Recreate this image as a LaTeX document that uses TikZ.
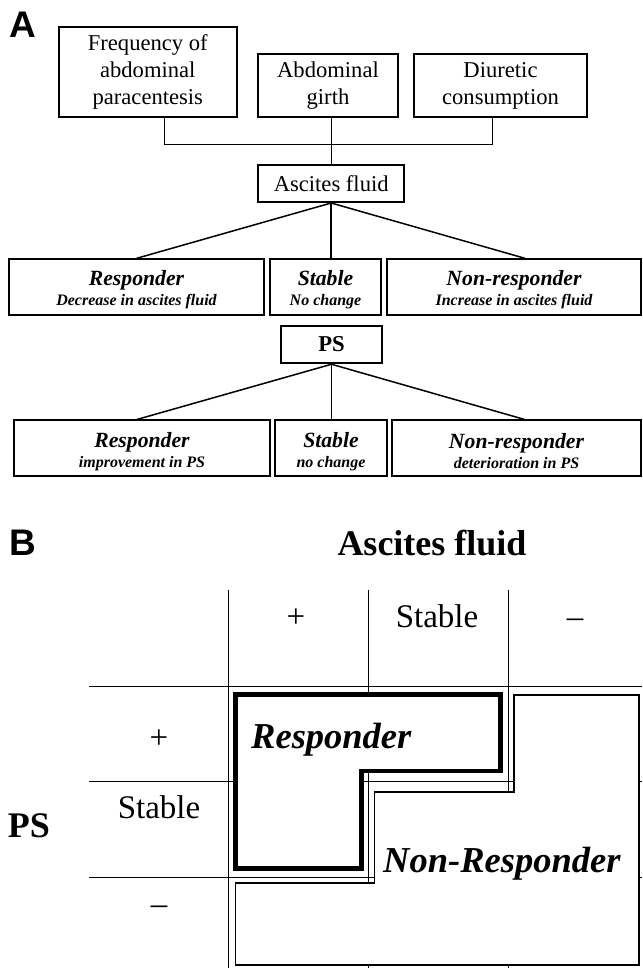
\documentclass[tikz,border=0pt]{standalone}
\usepackage{fontspec}
\setmainfont{Liberation Serif}
\newfontfamily\panelfont{Liberation Sans}
\usetikzlibrary{positioning, calc}

% 分類の箱の中身 (見出し + 説明)
\newcommand{\cls}[2]{{\fontsize{21.7}{20}\selectfont\rule{0pt}{21pt}#1}\\{#2}}

\begin{document}
\begin{tikzpicture}[x=1pt, y=-1pt,
    box/.style={draw, line width=2pt, align=center, inner sep=0pt},
    toptext/.style={font=\fontsize{22.6}{27}\selectfont},
    clsbox/.style={box, minimum height=55.7, font=\fontsize{16}{20}\selectfont\bfseries\itshape},
    link/.style={line width=1.5pt},
    thinlink/.style={line width=1.2pt},
    grid/.style={line width=1pt},
    panel/.style={inner sep=0pt, font=\panelfont\bfseries\fontsize{37}{40}\selectfont},
    celltext/.style={inner sep=0pt, font=\fontsize{33}{36}\selectfont},
    bigtext/.style={inner sep=0pt, font=\fontsize{36}{40}\selectfont\bfseries},
    region/.style={inner sep=0pt, font=\fontsize{36.5}{40}\selectfont\bfseries\itshape}]
  \useasboundingbox (0,0) rectangle (642,968);

  % パネル記号
  \node[panel, anchor=base west] (lblA) at (9,38) {A};
  \node[panel, anchor=base west] (lblB) at (9,555) {B};

  % 上段の箱
  \node[box, toptext, minimum width=178, minimum height=90] (freq) at (147.8,71.7) {Frequency of\\abdominal\\paracentesis};
  \node[box, toptext, minimum width=140, minimum height=63] (girth) at (328,85.6) {Abdominal\\girth};
  \node[box, toptext, minimum width=173, minimum height=63] (diur) at (500.5,85.6) {Diuretic\\consumption};
  \node[box, toptext, minimum width=146.5, minimum height=37] (asc) at (331.2,183.5) {Ascites fluid};

  \draw[thinlink] ([xshift=17pt]freq.south) -- ++(0,26.6) -| ([xshift=-8pt]diur.south);
  \draw[thinlink] (asc.north) -- (asc.north |- girth.south);

  % 腹水の分類
  \node[clsbox, minimum width=255] (resp1) at (136.5,287.2) {\cls{Responder}{Decrease in ascites fluid}};
  \node[clsbox, minimum width=111] (stab1) at (325.5,287.2) {\cls{Stable}{No change}};
  \node[clsbox, minimum width=254] (nonr1) at (514,287.2) {\cls{Non-responder}{Increase in ascites fluid}};

  \draw[link] (asc.south) -- (resp1.north);
  \draw[link] (asc.south) -- (asc.south |- stab1.north);
  \draw[link] (asc.south) -- ([xshift=11pt]nonr1.north);

  % PS の分類
  \node[box, line width=2.5pt, font=\fontsize{22.7}{27}\selectfont\bfseries, minimum width=101, minimum height=37] (ps) at (331.5,344.5) {PS};

  \node[clsbox, minimum width=256] (resp2) at (142,448.3) {\cls{Responder}{improvement in PS}};
  \node[clsbox, minimum width=112] (stab2) at (331,448.3) {\cls{Stable}{no change}};
  \node[clsbox, minimum width=249] (nonr2) at (516.5,448.3) {\cls{Non-responder}{deterioration in PS}};

  \draw[link] (ps.south) -- ([xshift=-5pt]resp2.north);
  \draw[link] (ps.south) -- (ps.south |- stab2.north);
  \draw[link] (ps.south) -- ([xshift=8pt]nonr2.north);

  % 表の見出し
  \node[bigtext, anchor=base] (fluid) at (432,555) {Ascites fluid};
  \node[bigtext, anchor=base] (psrow) at (29,837) {PS};

  % 格子
  \foreach \x in {228.7,368,508}
    \draw[grid] (\x,590) -- (\x,968);
  \foreach \y in {686,781.7,877}
    \draw[grid] (89,\y) -- (642,\y);

  % 領域
  \draw[line width=1.5pt, fill=white] (514,695) -- (639,695) -- (639,965) -- (235.7,965) -- (235.7,883)
    -- (374.5,883) -- (374.5,792) -- (514,792) -- cycle;
  \draw[line width=4.5pt, fill=white] (235.5,694.5) -- (500.5,694.5) -- (500.5,771) -- (361.5,771)
    -- (361.5,868.5) -- (235.5,868.5) -- cycle;

  % 表の文字
  \node[celltext, anchor=base] (col1) at (296,627) {+};
  \node[celltext, anchor=base] (col2) at (437,627) {Stable};
  \node[celltext, anchor=base] (col3) at (575,627) {--};
  \node[celltext, anchor=base] (row1) at (159,748) {+};
  \node[celltext, anchor=base] (row2) at (159,818) {Stable};
  \node[celltext, anchor=base] (row3) at (159,914) {--};
  \node[region, anchor=base west] (resplbl) at (251,748) {Responder};
  \node[region, anchor=base west] (nonrlbl) at (383,872) {Non-Responder};
\end{tikzpicture}
\end{document}
